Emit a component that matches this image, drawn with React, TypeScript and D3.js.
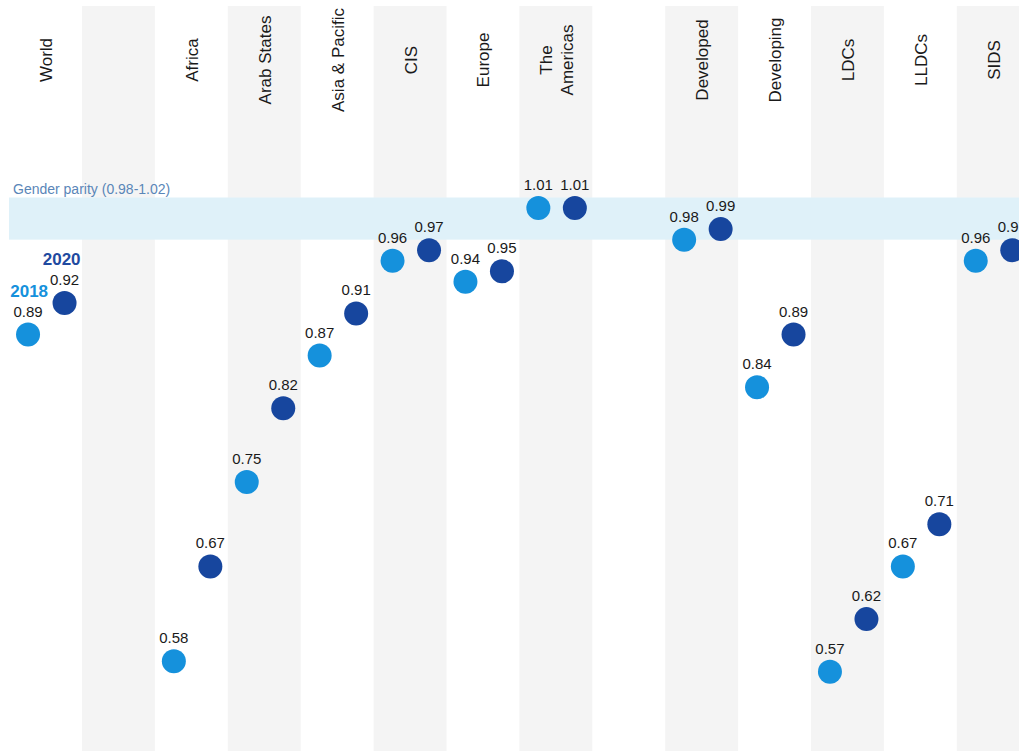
import React from "react";
import * as d3 from "d3";

const categories = ["World", "gap1", "Africa", "Arab States", "Asia & Pacific", "CIS", "Europe", "The Americas", "gap2", "Developed", "Developing", "LDCs", "LLDCs", "SIDS"];
const labels = [["World"], [], ["Africa"], ["Arab States"], ["Asia & Pacific"], ["CIS"], ["Europe"], ["The", "Americas"], [], ["Developed"], ["Developing"], ["LDCs"], ["LLDCs"], ["SIDS"]];
const values2018: (number | null)[] = [0.89, null, 0.58, 0.75, 0.87, 0.96, 0.94, 1.01, null, 0.98, 0.84, 0.57, 0.67, 0.96];
const values2020: (number | null)[] = [0.92, null, 0.67, 0.82, 0.91, 0.97, 0.95, 1.01, null, 0.99, 0.89, 0.62, 0.71, 0.97];
const parityRange = [0.98, 1.02];
const seriesNames = ["2018", "2020"];

const W = 1019;
const H = 751;
const FONT = "'Liberation Sans', Arial, Helvetica, sans-serif";
const C2018 = "#1591dc";
const C2020 = "#17469e";

export default function App() {
  const x = d3.scaleBand<string>().domain(categories).range([9.1, 9.1 + 72.9 * categories.length]).padding(0);
  const y = d3.scaleLinear().domain([0.5, 1.02]).range([745.6, 197.5]);
  const bw = x.bandwidth();
  const off2018 = -17.5;
  const off2020 = 19;
  const r = 12;

  return (
    <svg width={W} height={H} style={{ position: "absolute", left: 0, top: 0, background: "#fff" }} fontFamily={FONT}>
      {/* stripes */}
      {categories.map((c, i) =>
        i % 2 === 1 ? <rect key={"s" + c} x={x(c)} y={6} width={bw} height={H - 6} fill="#f4f4f4" /> : null
      )}
      {/* parity band */}
      <rect x={9} y={y(parityRange[1])} width={W - 9} height={y(parityRange[0]) - y(parityRange[1])} fill="#dff1f9" />
      <text x={13} y={y(parityRange[1]) - 3.5} fontSize={14} fill="#5a86b8">
        Gender parity ({parityRange[0].toFixed(2)}-{parityRange[1].toFixed(2)})
      </text>
      {/* column labels */}
      {categories.map((c, i) => {
        const cx = (x(c) as number) + bw / 2;
        const lines = labels[i];
        const n = lines.length;
        return (
          <g key={"l" + c} transform={`translate(${cx},60) rotate(-90)`}>
            {lines.map((t, j) => (
              <text key={t} x={0} y={(j - (n - 1) / 2) * 21 + 6.5} textAnchor="middle" fontSize={17} fill="#1a1a1a">
                {t}
              </text>
            ))}
          </g>
        );
      })}
      {/* dots */}
      {categories.map((c, i) => {
        const cx = (x(c) as number) + bw / 2;
        const v1 = values2018[i];
        const v2 = values2020[i];
        return (
          <g key={"d" + c}>
            {v1 != null && (
              <g>
                <circle cx={cx + off2018} cy={y(v1)} r={r} fill={C2018} />
                <text x={cx + off2018} y={y(v1) - 18} textAnchor="middle" fontSize={15} fill="#1a1a1a">
                  {v1.toFixed(2)}
                </text>
              </g>
            )}
            {v2 != null && (
              <g>
                <circle cx={cx + off2020} cy={y(v2)} r={r} fill={C2020} />
                <text x={cx + off2020} y={y(v2) - 18} textAnchor="middle" fontSize={15} fill="#1a1a1a">
                  {v2.toFixed(2)}
                </text>
              </g>
            )}
          </g>
        );
      })}
      {/* series legend labels on World */}
      {(() => {
        const cx = (x(categories[0]) as number) + bw / 2;
        const v1 = values2018[0] as number;
        const v2 = values2020[0] as number;
        return (
          <g fontWeight="bold" fontSize={17}>
            <text x={cx + off2018 + 20} y={y(v1) - 38} textAnchor="end" fill={C2018}>{seriesNames[0]}</text>
            <text x={cx + off2020 + 16} y={y(v2) - 38} textAnchor="end" fill={"#1f4aa0"}>{seriesNames[1]}</text>
          </g>
        );
      })()}
    </svg>
  );
}
